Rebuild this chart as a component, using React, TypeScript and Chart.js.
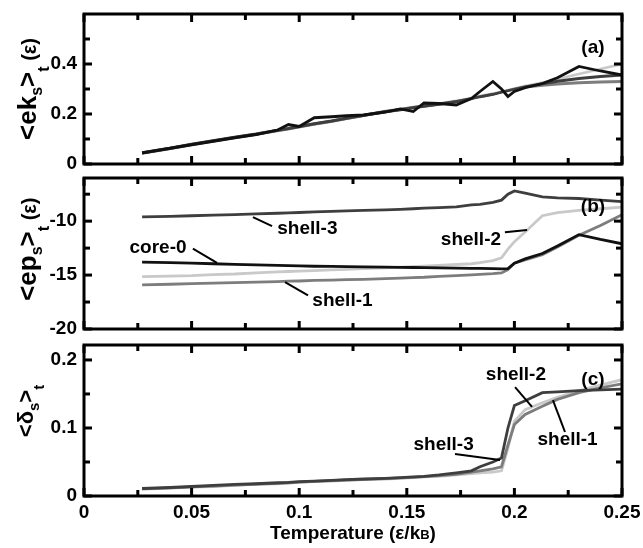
import React, { useEffect, useRef } from "react";
import { Chart, registerables } from "chart.js";

Chart.register(...registerables);

const FONT = '"Liberation Sans", Arial, Helvetica, sans-serif';

// ---- shared temperature grid (ε/kB) ----
const temperature = [0.027, 0.04, 0.05, 0.06, 0.07, 0.08, 0.09, 0.095, 0.1, 0.107, 0.115, 0.122, 0.13, 0.14, 0.147, 0.153, 0.158, 0.165, 0.173, 0.18, 0.184, 0.19, 0.194, 0.197, 0.2, 0.205, 0.213, 0.22, 0.23, 0.24, 0.25];

// ---- panel (a): <ek_s>_t ----
const ekCore0 = [0.044, 0.063, 0.077, 0.091, 0.105, 0.118, 0.136, 0.158, 0.150, 0.185, 0.189, 0.193, 0.196, 0.208, 0.220, 0.210, 0.244, 0.242, 0.236, 0.262, 0.290, 0.330, 0.300, 0.270, 0.290, 0.305, 0.322, 0.345, 0.390, 0.372, 0.356];
const ekShell1 = [0.044, 0.062, 0.078, 0.092, 0.106, 0.119, 0.134, 0.141, 0.149, 0.160, 0.171, 0.182, 0.194, 0.210, 0.218, 0.226, 0.232, 0.240, 0.249, 0.262, 0.270, 0.279, 0.288, 0.294, 0.300, 0.308, 0.315, 0.320, 0.325, 0.328, 0.330];
const ekShell2 = [0.043, 0.061, 0.077, 0.091, 0.105, 0.119, 0.133, 0.140, 0.148, 0.159, 0.170, 0.182, 0.195, 0.211, 0.219, 0.227, 0.233, 0.241, 0.252, 0.264, 0.272, 0.281, 0.289, 0.295, 0.302, 0.312, 0.325, 0.340, 0.360, 0.380, 0.400];
const ekShell3 = [0.045, 0.063, 0.079, 0.093, 0.107, 0.120, 0.135, 0.142, 0.150, 0.161, 0.172, 0.183, 0.195, 0.209, 0.217, 0.225, 0.231, 0.239, 0.250, 0.261, 0.269, 0.278, 0.287, 0.293, 0.299, 0.309, 0.321, 0.331, 0.342, 0.350, 0.356];

// ---- panel (b): <ep_s>_t ----
const epCore0 = [-13.8, -13.85, -13.9, -13.95, -14.0, -14.05, -14.1, -14.12, -14.15, -14.18, -14.2, -14.22, -14.24, -14.26, -14.28, -14.3, -14.31, -14.33, -14.35, -14.37, -14.38, -14.4, -14.42, -14.4, -13.9, -13.5, -13.0, -12.3, -11.25, -11.7, -12.1];
const epShell1 = [-15.9, -15.85, -15.8, -15.75, -15.7, -15.65, -15.6, -15.57, -15.55, -15.5, -15.47, -15.43, -15.4, -15.33, -15.28, -15.23, -15.2, -15.12, -15.05, -14.98, -14.93, -14.87, -14.8, -14.5, -13.9, -13.6, -13.1, -12.4, -11.3, -10.4, -9.4];
const epShell2 = [-15.15, -15.1, -15.05, -14.95, -14.9, -14.8, -14.7, -14.67, -14.63, -14.58, -14.52, -14.47, -14.41, -14.33, -14.27, -14.22, -14.18, -14.1, -14.02, -13.95, -13.85, -13.65, -13.4, -12.6, -11.9, -11.0, -9.5, -9.2, -9.0, -8.85, -8.7];
const epShell3 = [-9.6, -9.55, -9.5, -9.45, -9.4, -9.33, -9.27, -9.24, -9.2, -9.15, -9.1, -9.05, -9.0, -8.95, -8.9, -8.85, -8.8, -8.75, -8.68, -8.5, -8.45, -8.25, -8.05, -7.5, -7.2, -7.4, -7.75, -7.85, -7.9, -8.05, -8.2];

// ---- panel (c): <δ_s>_t ----
const dShell1 = [0.0105, 0.012, 0.0135, 0.0145, 0.016, 0.0175, 0.0185, 0.0195, 0.0205, 0.0215, 0.0225, 0.0235, 0.0245, 0.0255, 0.0265, 0.0275, 0.0285, 0.030, 0.032, 0.035, 0.037, 0.040, 0.043, 0.075, 0.105, 0.120, 0.132, 0.142, 0.152, 0.159, 0.165];
const dShell2 = [0.010, 0.0115, 0.013, 0.014, 0.0155, 0.017, 0.018, 0.019, 0.020, 0.021, 0.022, 0.023, 0.024, 0.025, 0.026, 0.027, 0.028, 0.029, 0.031, 0.033, 0.034, 0.035, 0.037, 0.070, 0.110, 0.127, 0.137, 0.145, 0.155, 0.163, 0.171];
const dShell3 = [0.011, 0.0125, 0.014, 0.0155, 0.017, 0.018, 0.0195, 0.020, 0.021, 0.022, 0.023, 0.024, 0.025, 0.026, 0.027, 0.028, 0.029, 0.031, 0.034, 0.037, 0.043, 0.050, 0.056, 0.100, 0.133, 0.140, 0.152, 0.153, 0.155, 0.156, 0.157];

// ---- ticks ----
const xTicks = [0, 0.025, 0.05, 0.075, 0.1, 0.125, 0.15, 0.175, 0.2, 0.225, 0.25];
const xLabelTicks = [0, 0.05, 0.1, 0.15, 0.2, 0.25];
const yTicksA = [0, 0.1, 0.2, 0.3, 0.4, 0.5];
const yLabelsA = [0, 0.2, 0.4];
const yTicksB = [-20, -17.5, -15, -12.5, -10, -7.5];
const yLabelsB = [-20, -15, -10];
const yTicksC = [0, 0.05, 0.1, 0.15, 0.2];
const yLabelsC = [0, 0.1, 0.2];

const COLORS: Record<string, string> = {
  "core-0": "#111111",
  "shell-3": "#3e3e3e",
  "shell-1": "#7d7d7d",
  "shell-2": "#c9c9c9",
};

type Seg = { text: string; size: number; dy?: number; weight?: string };
type Note = { text: string; at: [number, number]; from?: [number, number]; to?: [number, number] };

interface PanelSpec {
  top: number;
  height: number;
  padTop: number;
  padBottom: number;
  showX: boolean;
  yMin: number;
  yMax: number;
  yTicks: number[];
  yLabels: number[];
  series: { name: string; values: number[] }[];
  title: Seg[];
  titleValue: number;
  titleBaselineX: number;
  tag: string;
  tagAt: [number, number];
  notes: Note[];
}

const panels: PanelSpec[] = [
  {
    top: 0, height: 180, padTop: 14, padBottom: 16, showX: false,
    yMin: 0, yMax: 0.6, yTicks: yTicksA, yLabels: yLabelsA,
    series: [
      { name: "core-0", values: ekCore0 },
      { name: "shell-3", values: ekShell3 },
      { name: "shell-1", values: ekShell1 },
      { name: "shell-2", values: ekShell2 },
    ],
    title: [
      { text: "<ek", size: 26 },
      { text: "s", size: 16, dy: 6 },
      { text: ">", size: 26 },
      { text: "t", size: 16, dy: 13 },
      { text: " (ε)", size: 20 },
    ],
    titleValue: 0.3, titleBaselineX: 36,
    tag: "(a)", tagAt: [0.2365, 0.464],
    notes: [],
  },
  {
    top: 160, height: 185, padTop: 18, padBottom: 16, showX: false,
    yMin: -20, yMax: -6, yTicks: yTicksB, yLabels: yLabelsB,
    series: [
      { name: "core-0", values: epCore0 },
      { name: "shell-3", values: epShell3 },
      { name: "shell-1", values: epShell1 },
      { name: "shell-2", values: epShell2 },
    ],
    title: [
      { text: "<ep", size: 26 },
      { text: "s", size: 16, dy: 6 },
      { text: ">", size: 26 },
      { text: "t", size: 16, dy: 13 },
      { text: " (ε)", size: 20 },
    ],
    titleValue: -12.6, titleBaselineX: 36,
    tag: "(b)", tagAt: [0.2365, -8.68],
    notes: [
      { text: "shell-3", at: [0.1038, -10.75], from: [0.0785, -9.62], to: [0.0874, -10.47] },
      { text: "core-0", at: [0.0344, -12.45], from: [0.0506, -12.55], to: [0.0618, -13.87] },
      { text: "shell-1", at: [0.1201, -17.36], from: [0.0934, -15.66], to: [0.1041, -16.89] },
      { text: "shell-2", at: [0.1798, -11.7], from: [0.1956, -11.04], to: [0.2059, -10.82] },
    ],
  },
  {
    top: 327, height: 221, padTop: 18, padBottom: 0, showX: true,
    yMin: 0, yMax: 0.222, yTicks: yTicksC, yLabels: yLabelsC,
    series: [
      { name: "shell-3", values: dShell3 },
      { name: "shell-1", values: dShell1 },
      { name: "shell-2", values: dShell2 },
    ],
    title: [
      { text: "<δ", size: 22 },
      { text: "s", size: 15, dy: 6 },
      { text: ">", size: 22 },
      { text: "t", size: 15, dy: 11 },
    ],
    titleValue: 0.125, titleBaselineX: 33,
    tag: "(c)", tagAt: [0.2365, 0.1706],
    notes: [
      { text: "shell-2", at: [0.2007, 0.178], from: [0.2003, 0.16], to: [0.2082, 0.131] },
      { text: "shell-3", at: [0.1671, 0.075], from: [0.1724, 0.0618], to: [0.1933, 0.0529] },
      { text: "shell-1", at: [0.2247, 0.0824], from: [0.2235, 0.0941], to: [0.2179, 0.141] },
    ],
  },
];

const xTitle: Seg[] = [
  { text: "Temperature (ε/k", size: 19 },
  { text: "B", size: 13 },
  { text: ")", size: 19 },
];

function segFont(s: Seg) {
  return `${s.weight ?? "bold"} ${s.size}px ${FONT}`;
}

function drawSegs(ctx: CanvasRenderingContext2D, segs: Seg[], cx: number, baseY: number) {
  let total = 0;
  for (const s of segs) {
    ctx.font = segFont(s);
    total += ctx.measureText(s.text).width;
  }
  let x = cx - total / 2;
  ctx.textAlign = "left";
  ctx.textBaseline = "alphabetic";
  for (const s of segs) {
    ctx.font = segFont(s);
    ctx.fillText(s.text, x, baseY + (s.dy ?? 0));
    x += ctx.measureText(s.text).width;
  }
}

function makeChart(canvas: HTMLCanvasElement, p: PanelSpec) {
  const decor = {
    id: "decor",
    afterDraw(chart: any) {
      const ctx: CanvasRenderingContext2D = chart.ctx;
      const { left, right, top, bottom } = chart.chartArea;
      const xs = chart.scales.x;
      const ys = chart.scales.y;
      ctx.save();
      ctx.strokeStyle = "#000";
      ctx.fillStyle = "#000";
      ctx.lineWidth = 3;
      const seg = (x1: number, y1: number, x2: number, y2: number) => {
        ctx.beginPath();
        ctx.moveTo(x1, y1);
        ctx.lineTo(x2, y2);
        ctx.stroke();
      };
      for (const v of xTicks) {
        const px = xs.getPixelForValue(v);
        const len = xLabelTicks.includes(v) ? 8 : 6;
        seg(px, bottom, px, bottom - len);
        seg(px, top, px, top + len);
      }
      for (const v of p.yTicks) {
        const py = ys.getPixelForValue(v);
        const len = p.yLabels.includes(v) ? 8 : 6;
        seg(left, py, left + len, py);
        seg(right, py, right - len, py);
      }
      ctx.strokeRect(left, top, right - left, bottom - top);

      // panel tag
      ctx.font = `bold 19px ${FONT}`;
      ctx.textAlign = "center";
      ctx.textBaseline = "middle";
      ctx.fillText(p.tag, xs.getPixelForValue(p.tagAt[0]), ys.getPixelForValue(p.tagAt[1]));

      // annotations
      ctx.lineWidth = 2;
      for (const n of p.notes) {
        ctx.font = `bold 19px ${FONT}`;
        ctx.textAlign = "center";
        ctx.textBaseline = "middle";
        ctx.fillText(n.text, xs.getPixelForValue(n.at[0]), ys.getPixelForValue(n.at[1]));
        if (n.from && n.to) {
          seg(
            xs.getPixelForValue(n.from[0]), ys.getPixelForValue(n.from[1]),
            xs.getPixelForValue(n.to[0]), ys.getPixelForValue(n.to[1])
          );
        }
      }

      // y title (rotated)
      ctx.save();
      ctx.translate(p.titleBaselineX, ys.getPixelForValue(p.titleValue));
      ctx.rotate(-Math.PI / 2);
      drawSegs(ctx, p.title, 0, 0);
      ctx.restore();

      // x title
      if (p.showX) {
        drawSegs(ctx, xTitle, (left + right) / 2, bottom + 43);
      }
      ctx.restore();
    },
  };

  const tickFont = { family: FONT, size: 19, weight: "bold" as const };

  return new Chart(canvas, {
    type: "line",
    data: {
      datasets: p.series.map((s) => ({
        label: s.name,
        data: temperature.map((t, i) => ({ x: t, y: s.values[i] })),
        borderColor: COLORS[s.name],
        backgroundColor: COLORS[s.name],
        borderWidth: 2.8,
        pointRadius: 0,
        tension: 0,
        fill: false,
      })),
    },
    options: {
      animation: false,
      responsive: false,
      devicePixelRatio: 1,
      layout: { padding: { top: p.padTop, bottom: p.padBottom, left: 0, right: 21 } },
      plugins: { legend: { display: false }, tooltip: { enabled: false } },
      scales: {
        x: {
          type: "linear",
          min: 0,
          max: 0.25,
          display: p.showX,
          grid: { display: false, drawTicks: false },
          border: { display: false },
          afterBuildTicks: (s: any) => {
            s.ticks = xLabelTicks.map((v) => ({ value: v }));
          },
          afterFit: (s: any) => {
            s.height = p.showX ? 52 : 0;
            s.paddingLeft = 0;
            s.paddingRight = 0;
          },
          ticks: {
            font: tickFont,
            color: "#000",
            padding: 5,
            maxRotation: 0,
            autoSkip: false,
            callback: (v: any) => String(v),
          },
        },
        y: {
          type: "linear",
          min: p.yMin,
          max: p.yMax,
          grid: { display: false, drawTicks: false },
          border: { display: false },
          afterBuildTicks: (s: any) => {
            s.ticks = p.yLabels.map((v) => ({ value: v }));
          },
          afterFit: (s: any) => {
            s.width = 84;
            s.paddingTop = 0;
            s.paddingBottom = 0;
          },
          ticks: {
            font: tickFont,
            color: "#000",
            padding: 7,
            autoSkip: false,
            callback: (v: any) => String(v),
          },
        },
      },
    } as any,
    plugins: [decor],
  });
}

export default function App() {
  const refs = [useRef<HTMLCanvasElement>(null), useRef<HTMLCanvasElement>(null), useRef<HTMLCanvasElement>(null)];

  useEffect(() => {
    const charts = panels.map((p, i) => makeChart(refs[i].current as HTMLCanvasElement, p));
    return () => charts.forEach((c) => c.destroy());
  }, []);

  return (
    <div
      style={{
        position: "fixed",
        left: 0,
        top: 0,
        width: 643,
        height: 548,
        background: "#fff",
        overflow: "hidden",
      }}
    >
      {panels.map((p, i) => (
        <canvas
          key={i}
          ref={refs[i]}
          width={643}
          height={p.height}
          style={{ position: "absolute", left: 0, top: p.top, width: 643, height: p.height }}
        />
      ))}
    </div>
  );
}
